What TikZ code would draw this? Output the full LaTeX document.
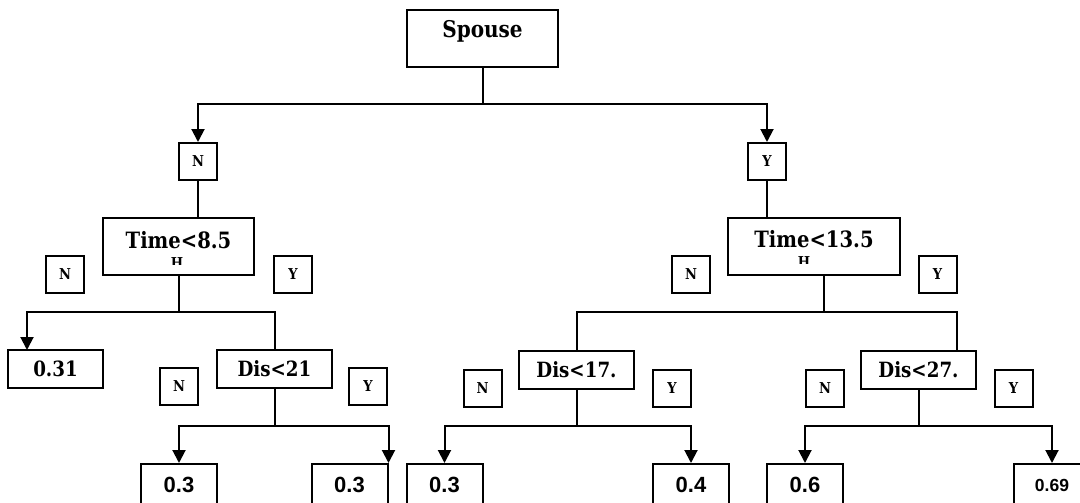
\documentclass[tikz,border=0pt]{standalone}
\usepackage{fontspec}
\setmainfont{DejaVu Serif}[FakeStretch=0.87]
\newfontfamily\numsans{Liberation Sans}
\usetikzlibrary{arrows.meta}
\begin{document}
\begin{tikzpicture}[x=1pt,y=-1pt,
  line width=2pt,
  box/.style={draw, line width=2pt, inner sep=0pt, font=\bfseries},
  lab/.style={box, minimum width=38pt, minimum height=37pt, font=\bfseries\fontsize{15}{15}\selectfont},
  leaf/.style={box, minimum width=76pt, minimum height=42pt, anchor=north, font=\numsans\bfseries\fontsize{22}{22}\selectfont},
  mid/.style={box, minimum width=115pt, minimum height=38pt, font=\bfseries\fontsize{21}{21}\selectfont},
  arr/.style={-{Triangle[width=13pt,length=13pt]}},
  conn/.style={line width=2pt}]
\useasboundingbox (0,0) rectangle (1080,503);
\clip (0,0) rectangle (1080,503);
% root
\node[box, anchor=north, minimum width=151pt, text height=28pt, text depth=29pt,
  font=\bfseries\fontsize{23}{23}\selectfont] (spouse) at (482.5,9) {Spouse};
\node[lab] (n1) at (198,161.5) {N};
\node[lab] (y1) at (767,161.5) {Y};
% time boxes
\node[box, anchor=north, minimum width=151pt, text height=30pt, text depth=27pt,
  font=\bfseries\fontsize{22.5}{22.5}\selectfont] (t1) at (178.5,217) {Time<8.5};
\node[box, anchor=north, minimum width=172pt, text height=29pt, text depth=28pt,
  font=\bfseries\fontsize{22.5}{22.5}\selectfont] (t2) at (814,217) {Time<13.5};
\begin{scope}
  \clip (160,255) rectangle (200,264);
  \node[font=\bfseries\fontsize{15}{15}\selectfont, inner sep=0pt, anchor=base] (t1h) at (177,268) {H};
\end{scope}
\begin{scope}
  \clip (785,255) rectangle (825,263.5);
  \node[font=\bfseries\fontsize{15}{15}\selectfont, inner sep=0pt, anchor=base] (t2h) at (804,267.5) {H};
\end{scope}
% labels level 2
\node[lab] (na) at (65,274.5) {N};
\node[lab] (ya) at (293,274.5) {Y};
\node[lab] (nc) at (691,274.5) {N};
\node[lab] (yc) at (937.5,274.5) {Y};
% level 3
\node[box, minimum width=95pt, minimum height=38pt, font=\bfseries\fontsize{21}{21}\selectfont] (l031) at (55.5,369) {0.31};
\node[mid] (d21) at (274.5,369) {Dis<21};
\node[mid] (d17) at (576.5,369.5) {Dis<17.};
\node[mid] (d27) at (918.5,369.5) {Dis<27.};
% labels level 3
\node[lab] (nb) at (179,386.5) {N};
\node[lab] (yb) at (368,386.5) {Y};
\node[lab] (nd) at (482.5,388.5) {N};
\node[lab] (yd) at (672,388.5) {Y};
\node[lab] (ne) at (825,388.5) {N};
\node[lab] (ye) at (1013.5,388.5) {Y};
% leaves
\node[leaf] (a) at (179,463) {0.3};
\node[leaf] (b) at (349.5,463) {0.3};
\node[leaf] (c) at (444.5,463) {0.3};
\node[leaf] (d) at (691,463) {0.4};
\node[leaf] (e) at (805,463) {0.6};
\node[leaf, font=\numsans\bfseries\fontsize{17.5}{17.5}\selectfont] (f) at (1052,463) {0.69};
% junctions
\coordinate (j0) at (482.5,104);
\coordinate (j1) at (178.5,312);
\coordinate (j2) at (824,312);
\coordinate (j3) at (274.5,426);
\coordinate (j4) at (576.5,426);
\coordinate (j5) at (918.5,426);
% connectors
\draw[conn] (spouse.south) -- (j0);
\draw[conn,arr] (j0) -| (n1.north);
\draw[conn,arr] (j0) -| (y1.north);
\draw[conn] (n1.south) -- (n1.south |- t1.north);
\draw[conn] (y1.south) -- (y1.south |- t2.north);
\draw[conn] (t1.south) -- (j1);
\draw[conn,arr] (j1) -| (27,350) coordinate (l031in);
\draw[conn] (j1) -| (d21.north);
\draw[conn] (t2.south -| j2) -- (j2);
\draw[conn] (j2) -| (d17.north);
\draw[conn] (j2) -| (957,350) coordinate (d27in);
\draw[conn] (d21.south) -- (j3);
\draw[conn,arr] (j3) -| (a.north);
\draw[conn,arr] (j3) -| (b.north east);
\draw[conn] (d17.south) -- (j4);
\draw[conn,arr] (j4) -| (c.north);
\draw[conn,arr] (j4) -| (d.north);
\draw[conn] (d27.south) -- (j5);
\draw[conn,arr] (j5) -| (e.north);
\draw[conn,arr] (j5) -| (f.north);
\end{tikzpicture}
\end{document}
